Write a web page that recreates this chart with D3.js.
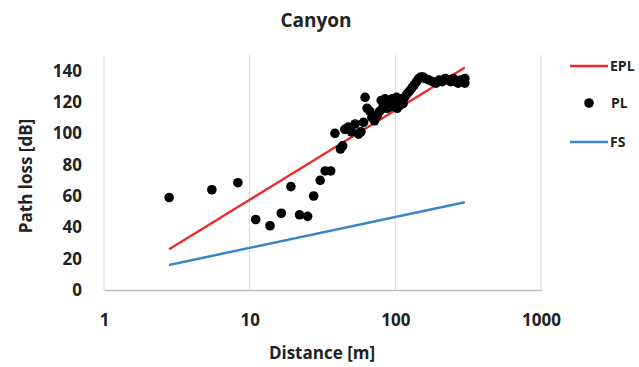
<!DOCTYPE html>
<html>
<head>
<meta charset="utf-8">
<script src="https://cdn.jsdelivr.net/npm/d3@7"></script>
<style>
  body { margin: 0; background: #fff; }
  svg { font-family: "Open Sans", sans-serif; font-weight: bold; }
</style>
</head>
<body>
<div id="chart"></div>
<script>
// Path loss measurements, canyon scenario
const plDistance = [2.8, 5.5, 8.3, 11, 13.8, 16.5, 19.2, 22, 25, 27.5, 30.5, 33, 36,
    38.5, 42, 43.5, 45, 47.5, 50, 53, 56, 58, 60.5, 62, 64, 67, 69, 72, 75, 78,
    80, 82, 83, 85, 87, 88, 90, 92, 93, 95, 97, 98, 100, 102, 103, 106, 108, 110, 113, 116, 120, 125, 130,
    135, 140, 145, 150, 155, 160, 170, 180, 190, 200, 210, 220, 230, 240, 250,
    260, 270, 280, 290, 300, 300];
const plValue = [59, 64, 68.5, 45, 41, 49, 66, 48, 47, 60, 70, 76, 76,
    100, 90, 92, 102.5, 104, 101, 106, 99.5, 101, 107, 123, 116, 114, 110, 108, 111, 114,
    121, 116, 118, 122, 119, 116, 121, 119, 117, 122, 118, 119, 120, 123, 116, 121, 118, 122, 119, 123, 125, 127, 129,
    131, 133, 135, 136, 136, 135, 134, 133, 132, 134, 133, 135, 134, 133, 135,
    133, 132, 134, 133, 135, 132];

const eplDistance = [2.8, 300];
const eplValue = [26, 142];
const fsDistance = [2.8, 300];
const fsValue = [16, 56];

const xTicks = [1, 10, 100, 1000];
const yTicks = [0, 20, 40, 60, 80, 100, 120, 140];

const width = 639, height = 367;
const margin = {top: 55, right: 98, bottom: 77, left: 104};

const svg = d3.select("#chart").append("svg")
    .attr("width", width)
    .attr("height", height);

const x = d3.scaleLog()
    .domain([1, 1000])
    .range([margin.left, width - margin.right]);

const y = d3.scaleLinear()
    .domain([0, 150])
    .range([height - margin.bottom, margin.top]);

// vertical gridlines
svg.append("g")
    .selectAll("line")
    .data(xTicks)
    .enter()
    .append("line")
        .attr("x1", d => x(d))
        .attr("x2", d => x(d))
        .attr("y1", y(150))
        .attr("y2", y(0))
        .attr("stroke", "#d9d9d9")
        .attr("stroke-width", 1);

// bottom axis
svg.append("g")
    .attr("transform", `translate(0, ${y(0)})`)
    .call(d3.axisBottom(x).tickValues(xTicks).tickFormat(d3.format("d")).tickSize(0).tickPadding(24))
    .call(g => g.select(".domain").attr("stroke", "#bfbfbf").attr("stroke-width", 1.5))
    .call(g => g.selectAll("text").attr("font-size", 17).attr("font-family", "Open Sans").attr("font-weight", "bold").attr("fill", "#222"));

// left axis
svg.append("g")
    .attr("transform", `translate(${margin.left}, 0)`)
    .call(d3.axisLeft(y).tickValues(yTicks).tickSize(0).tickPadding(22))
    .call(g => g.select(".domain").remove())
    .call(g => g.selectAll("text").attr("font-size", 17).attr("font-family", "Open Sans").attr("font-weight", "bold").attr("fill", "#222"));

const line = d3.line()
    .x(d => x(d[0]))
    .y(d => y(d[1]));

svg.append("path")
    .datum(d3.zip(fsDistance, fsValue))
    .attr("d", line)
    .attr("fill", "none")
    .attr("stroke", "#3a86c8")
    .attr("stroke-width", 2.5);

svg.append("path")
    .datum(d3.zip(eplDistance, eplValue))
    .attr("d", line)
    .attr("fill", "none")
    .attr("stroke", "#ee2a2c")
    .attr("stroke-width", 2.5);

svg.append("g")
    .selectAll("circle")
    .data(d3.zip(plDistance, plValue))
    .enter()
    .append("circle")
        .attr("cx", d => x(d[0]))
        .attr("cy", d => y(d[1]))
        .attr("r", 4.8)
        .attr("fill", "#000");

// titles
svg.append("text")
    .attr("x", 316).attr("y", 27)
    .attr("text-anchor", "middle")
    .attr("font-size", 19)
    .attr("fill", "#222")
    .text("Canyon");

svg.append("text")
    .attr("x", 322).attr("y", 359)
    .attr("text-anchor", "middle")
    .attr("font-size", 17)
    .attr("fill", "#222")
    .text("Distance [m]");

svg.append("text")
    .attr("transform", "translate(32, 176) rotate(-90)")
    .attr("text-anchor", "middle")
    .attr("font-size", 17)
    .attr("fill", "#222")
    .text("Path loss [dB]");

// legend
const legend = svg.append("g").attr("font-size", 14).attr("fill", "#222");

legend.append("line")
    .attr("x1", 570).attr("x2", 608).attr("y1", 66).attr("y2", 66)
    .attr("stroke", "#ee2a2c").attr("stroke-width", 2.5);
legend.append("text").attr("x", 610).attr("y", 71).text("EPL");

legend.append("circle")
    .attr("cx", 589).attr("cy", 103).attr("r", 4.8).attr("fill", "#000");
legend.append("text").attr("x", 611).attr("y", 108).text("PL");

legend.append("line")
    .attr("x1", 570).attr("x2", 608).attr("y1", 142).attr("y2", 142)
    .attr("stroke", "#3a86c8").attr("stroke-width", 2.5);
legend.append("text").attr("x", 610).attr("y", 147).text("FS");
</script>
</body>
</html>
